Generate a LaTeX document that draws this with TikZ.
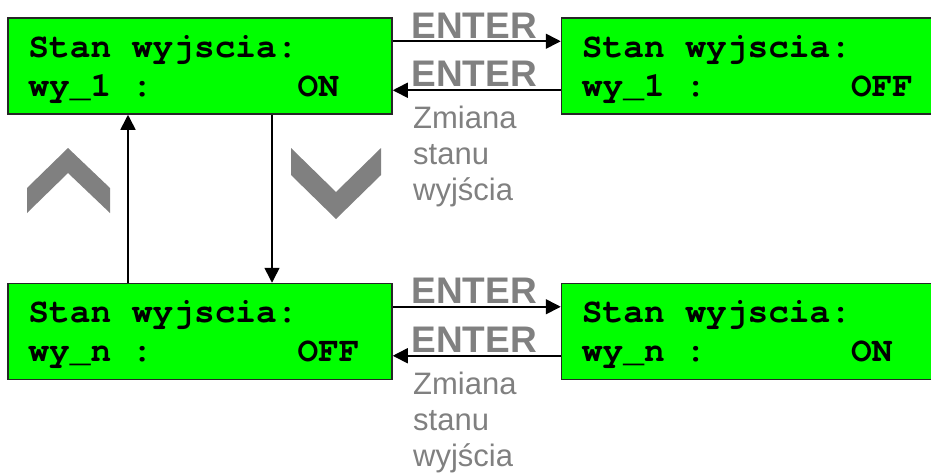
\documentclass[tikz,border=0pt]{standalone}
\usepackage{fontspec}
\setmainfont{Liberation Sans}
\setmonofont{TeX Gyre Cursor}
\usetikzlibrary{arrows.meta, positioning}

\tikzset{
	lcd/.style={draw=black!85, line width=1.5pt, fill=green, minimum width=384pt, minimum height=96pt, inner sep=0pt},
	lcdline/.style={anchor=base west, inner sep=0pt, font=\fontsize{34.5}{39}\selectfont\ttfamily\bfseries\frenchspacing},
	key/.style={anchor=base west, inner sep=0pt, text=gray, font=\fontsize{37}{40}\selectfont\bfseries},
	note/.style={anchor=base west, inner sep=0pt, text=gray, align=left, font=\fontsize{31}{36}\selectfont},
	conn/.style={line width=1.6pt, -{Triangle[length=15pt,width=15pt]}},
	chev/.style={fill=gray, draw=none}
}

\begin{document}
\begin{tikzpicture}[x=1pt, y=-1pt]
		\path[use as bounding box] (0,0) rectangle (931,475);
		\clip (0,0) rectangle (931,475);
		% displays
		\node[lcd] (on1) at (200,66) {};
		\node[lcd, right=168pt of on1] (off1) {};
		\node[lcd, below=168pt of on1] (offn) {};
		\node[lcd, right=168pt of offn] (onn) {};
		\foreach \d/\n/\v in {on1/1/ON, off1/1/OFF, offn/n/OFF, onn/n/ON}{
			\node[lcdline] (\d-a) at ([shift={(21,40)}]\d.north west) {Stan wyjscia:};
			\node[lcdline] (\d-b) at ([shift={(21,79)}]\d.north west) {wy\_\n{}~:~~~~~~~\v};
		}
		% enter
		\draw[conn] ([shift={(0,24)}]on1.north east) -- ([shift={(0,24)}]off1.north west);
		\draw[conn] ([shift={(0,73)}]off1.north west) -- ([shift={(0,73)}]on1.north east);
		\draw[conn] ([shift={(0,24)}]offn.north east) -- ([shift={(0,24)}]onn.north west);
		\draw[conn] ([shift={(0,73)}]onn.north west) -- ([shift={(0,73)}]offn.north east);
		\foreach \d in {on1, offn}{
			\node[key] (\d-k1) at ([shift={(18.5,21)}]\d.north east) {ENTER};
			\node[key] (\d-k2) at ([shift={(18.5,69.5)}]\d.north east) {ENTER};
		}
		\node[note] (note1) at (413,200) {Zmiana\\stanu\\wyjścia};
		\node[note] (note2) at (413,466) {Zmiana\\stanu\\wyjścia};
		% up / down
		\draw[conn] ([xshift=-72pt]offn.north) -- ([xshift=-72pt]on1.south);
		\draw[conn] ([xshift=72pt]on1.south) -- ([xshift=72pt]offn.north);
		\fill[chev] (27,213) -- (27,188) -- (68,148) -- (110,188) -- (110,213) -- (68,173) -- cycle;
		\fill[chev] (291,148) -- (336,192) -- (381,148) -- (381,175) -- (336,219) -- (291,175) -- cycle;
	\end{tikzpicture}
\end{document}
